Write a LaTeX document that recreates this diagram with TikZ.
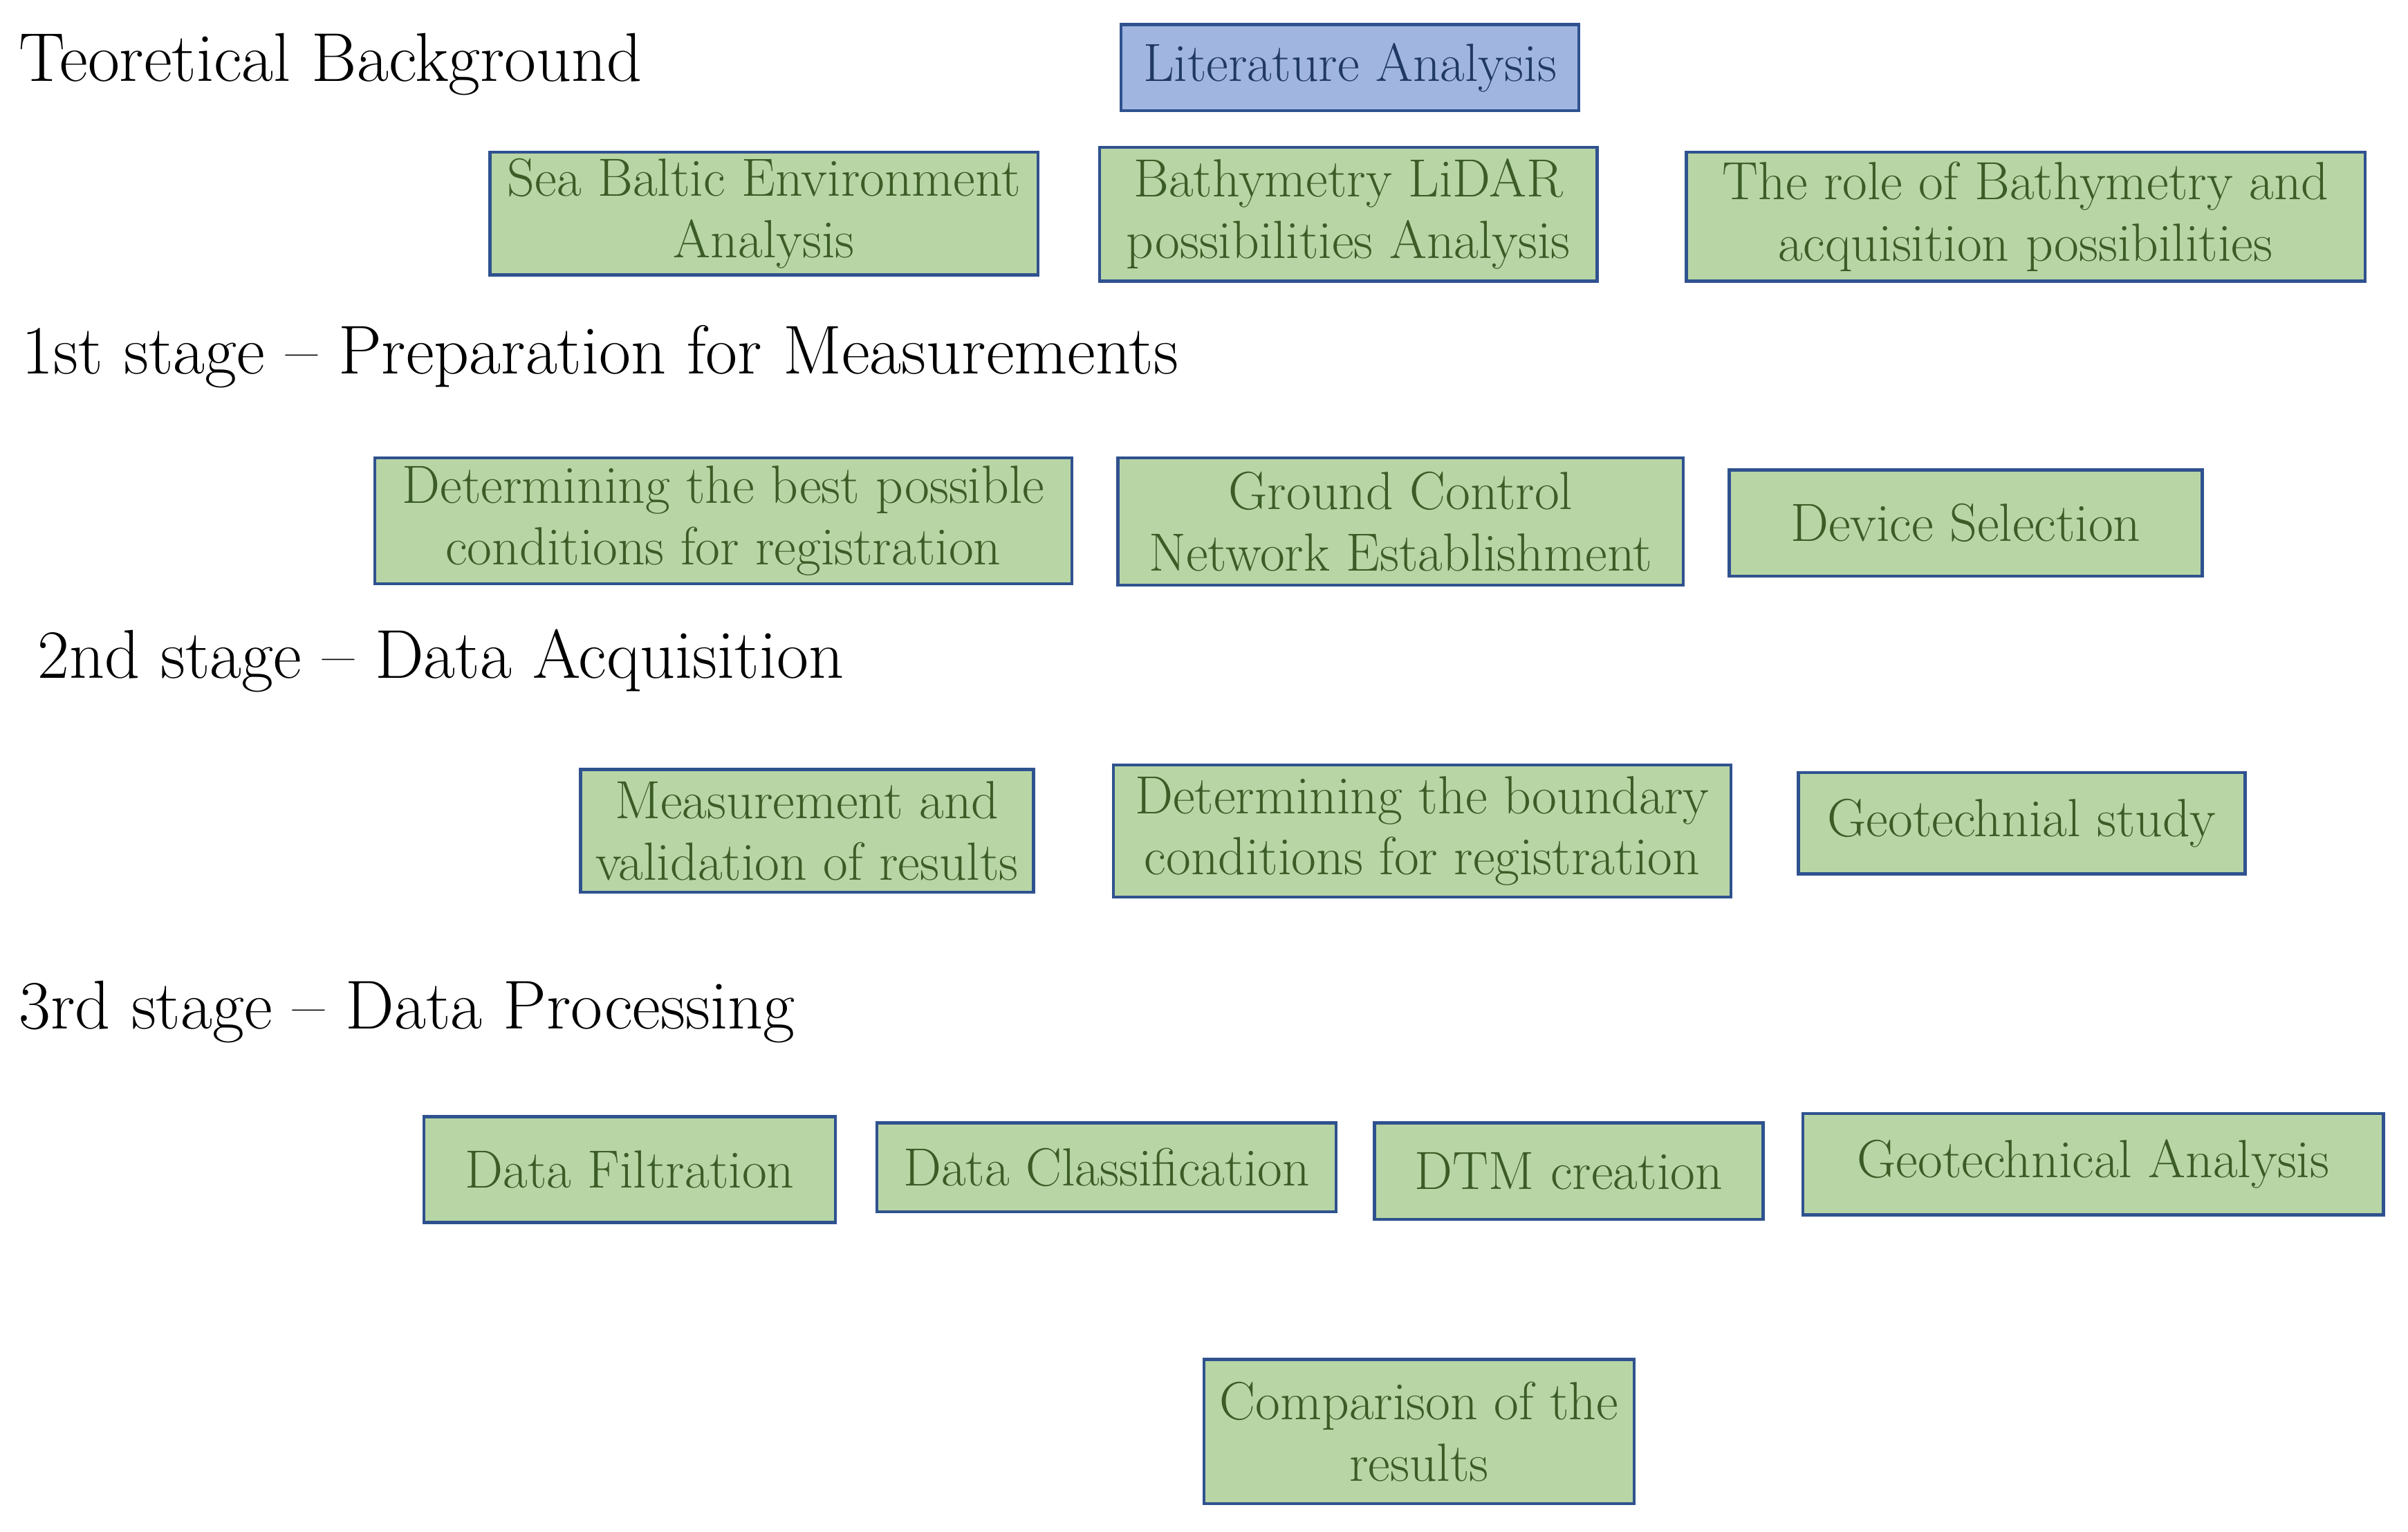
\documentclass[tikz,border=0pt]{standalone}
\usepackage{tikz}
\usetikzlibrary{positioning}
\definecolor{boxgreen}{HTML}{B8D5A5}
\definecolor{boxblue}{HTML}{A0B5DF}
\definecolor{edgeblue}{HTML}{2F528F}
\definecolor{textgreen}{HTML}{3B5C26}
\definecolor{textblue}{HTML}{1F3864}
\tikzset{
  taskbox/.style={draw=edgeblue, line width=1pt, fill=boxgreen, text=textgreen, align=center, inner sep=0pt, font=\fontsize{17.5}{20}\selectfont},
  litbox/.style={taskbox, fill=boxblue, text=textblue},
  stagehead/.style={anchor=west, inner sep=0pt, font=\fontsize{22.5}{26}\selectfont}
}
\newcommand{\taskat}[6]{%
  \node[#1, minimum width={(#4-#2)*0.5pt}, minimum height={(#5-#3)*0.5pt}] (#6) at ({(#2+#4)/2},{(#3+#5)/2})}

\begin{document}
\begin{tikzpicture}[x=0.5pt,y=-0.5pt]
\useasboundingbox (0,0) rectangle (1568,997);
% Theoretical background
\node[stagehead] (theory) at (12,42) {Teoretical Background};
\taskat{litbox}{730}{16}{1028}{72}{lit} {Literature Analysis};
\taskat{taskbox}{319}{99}{676}{179}{baltic} {Sea Baltic Environment\\Analysis};
\taskat{taskbox}{716}{96}{1040}{183}{lidar} {Bathymetry LiDAR\\possibilities Analysis};
\taskat{taskbox}{1098}{99}{1540}{183}{role} {The role of Bathymetry and\\acquisition possibilities};
% 1st stage
\node[stagehead] (stage1) at (14,232) {1st stage -- Preparation for Measurements};
\taskat{taskbox}{244}{298}{698}{380}{bestcond} {Determining the best possible\\conditions for registration};
\taskat{taskbox}{728}{298}{1096}{381}{gcn} {Ground Control\\Network Establishment};
\taskat{taskbox}{1126}{306}{1434}{375}{device} {Device Selection};
% 2nd stage
\node[stagehead] (stage2) at (24,430) {2nd stage -- Data Acquisition};
\taskat{taskbox}{378}{501}{673}{581}{measure} {Measurement and\\validation of results};
\taskat{taskbox}{725}{498}{1127}{584}{boundary} {Determining the boundary\\conditions for registration};
\taskat{taskbox}{1171}{503}{1462}{569}{geostudy} {Geotechnial study};
% 3rd stage
\node[stagehead] (stage3) at (12,659) {3rd stage -- Data Processing};
\taskat{taskbox}{276}{727}{544}{796}{filter} {Data Filtration};
\taskat{taskbox}{571}{731}{870}{789}{classify} {Data Classification};
\taskat{taskbox}{895}{731}{1148}{794}{dtm} {DTM creation};
\taskat{taskbox}{1174}{725}{1552}{791}{geoanalysis} {Geotechnical Analysis};
% Final comparison
\taskat{taskbox}{784}{885}{1064}{979}{compare} {Comparison of the\\results};
\end{tikzpicture}
\end{document}
